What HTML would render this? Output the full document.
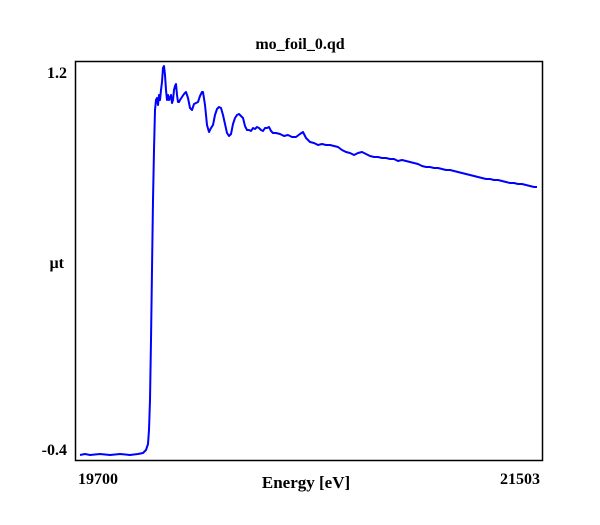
<!DOCTYPE html>
<html><head><style>
body{margin:0;background:#fff;width:600px;height:520px;overflow:hidden}
svg text{font-family:"Liberation Serif",serif;font-weight:bold;fill:#000}
</style></head><body>
<svg width="600" height="520" xmlns="http://www.w3.org/2000/svg">
<rect x="75.5" y="61.5" width="467" height="399" fill="none" stroke="#000" stroke-width="1.5"/>
<text x="300" y="49" font-size="16" text-anchor="middle">mo_foil_0.qd</text>
<text x="67" y="78" font-size="16" text-anchor="end">1.2</text>
<text x="67" y="455" font-size="16" text-anchor="end">-0.4</text>
<text x="64" y="268" font-size="16" text-anchor="end">µt</text>
<text x="78" y="484" font-size="16">19700</text>
<text x="540" y="484" font-size="16" text-anchor="end">21503</text>
<text x="306" y="488" font-size="17" text-anchor="middle">Energy [eV]</text>
<polyline fill="none" stroke="#0000ff" stroke-width="2" stroke-linejoin="round" points="
80,455 85,454 90,455 100,454 110,455 120,454 130,455 138,454 143,453 146,450 148,444 149,430 150,400 151,340 152,270 153,200 154,150 155,110 156,100 157,98 158,105 159,95 160,100 161,90 162,82 163,68 164,66 165,75 166,90 167,100 168,95 169,100 170,98 171,95 172,103 173,100 174,90 175,86 176,84 177,95 178,102 179,102 180,100 182,97 184,94 186,92 188,98 190,108 192,110 194,104 196,103 198,102 200,96 202,92 203,92 205,105 207,125 209,132 211,128 213,125 215,115 217,109 219,107 221,108 223,115 225,124 227,133 229,136 231,134 233,124 235,118 237,115 239,114 241,116 243,118 245,126 247,130 249,130 251,131 253,128 255,129 257,127 259,128 261,130 263,131 265,128 267,128 269,127 271,131 273,133 276,133 280,134 284,136 288,135 292,137 296,137 300,134 303,132 306,138 310,142 314,143 318,145 322,144 326,145 330,145 334,146 338,147 342,150 346,152 350,153 354,155 358,153 362,152 366,154 370,156 374,157 378,157 382,158 386,158 390,159 394,159 398,161 402,160 406,161 410,162 414,163 418,164 422,166 426,167 430,167 434,168 438,168 442,169 446,170 450,170 454,171 458,172 462,173 466,174 470,175 474,176 478,177 482,178 486,179 490,179 494,180 498,180 502,181 506,182 510,183 514,183 518,184 522,184 526,185 530,186 534,187 537,187"/>
</svg>
</body></html>
